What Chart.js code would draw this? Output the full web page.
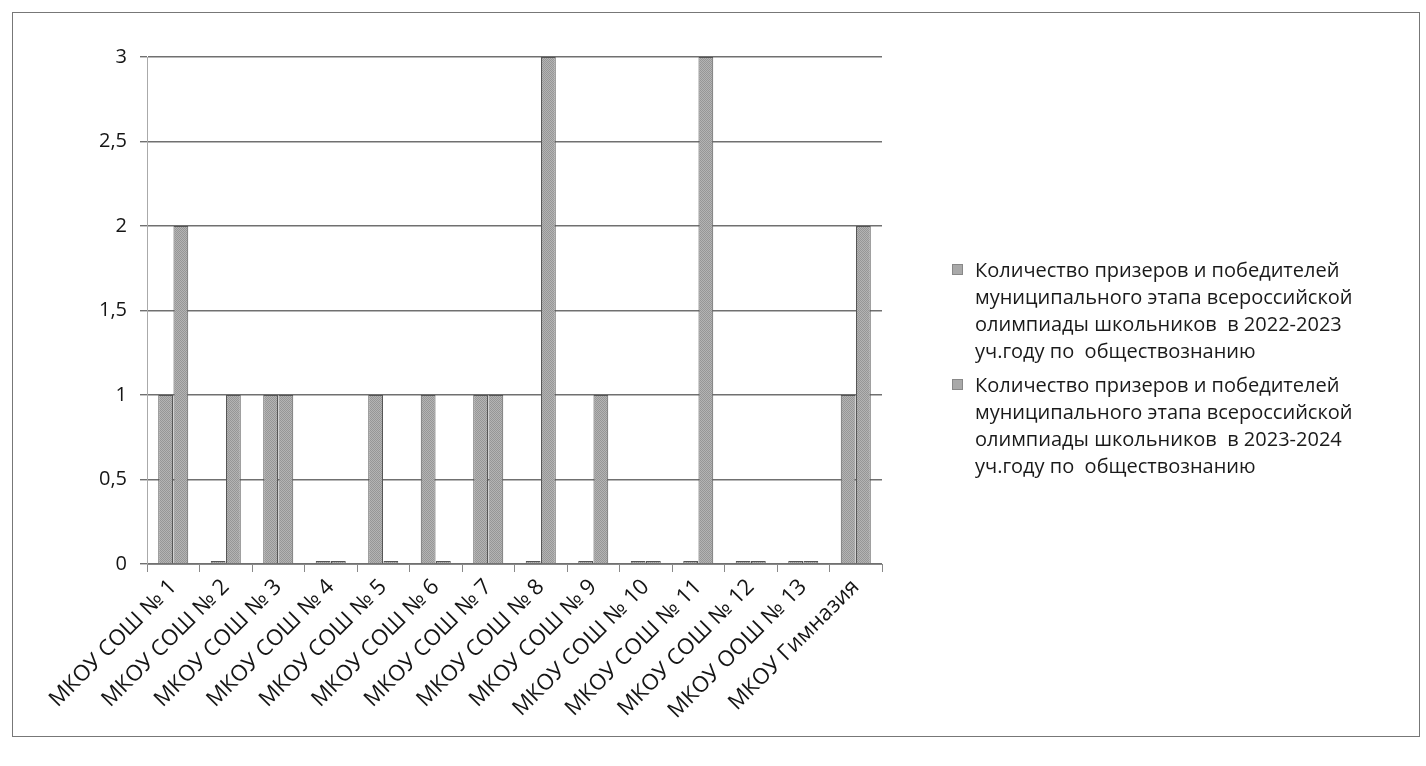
<!DOCTYPE html>
<html>
<head>
<meta charset="utf-8">
<script src="https://cdn.jsdelivr.net/npm/chart.js@4.4.1/dist/chart.umd.min.js"></script>
<style>
  html, body { margin: 0; padding: 0; background: #ffffff; }
  #wrap { position: relative; width: 1426px; height: 766px; overflow: hidden; }
  #frame { position: absolute; left: 12px; top: 12px; width: 1406px; height: 723px; border: 1px solid #777; }
  #chart { position: absolute; left: 0; top: 0; }
  #legend { position: absolute; left: 952px; top: 256px; font-family: "Open Sans", sans-serif; font-size: 20px; line-height: 27px; color: #1a1a1a; }
  .item { position: relative; padding-left: 23px; white-space: pre; margin-bottom: 7px; }
  .mark { position: absolute; left: 0; top: 8px; width: 11px; height: 11px; background: #a9a9a9; border: 1px solid #888; box-sizing: border-box; }
</style>
</head>
<body>
<div id="wrap">
  <div id="frame"></div>
  <canvas id="chart" width="1426" height="766"></canvas>
  <div id="legend"></div>
</div>
<script>
const categories = [
  "МКОУ СОШ № 1", "МКОУ СОШ № 2", "МКОУ СОШ № 3", "МКОУ СОШ № 4",
  "МКОУ СОШ № 5", "МКОУ СОШ № 6", "МКОУ СОШ № 7", "МКОУ СОШ № 8",
  "МКОУ СОШ № 9", "МКОУ СОШ № 10", "МКОУ СОШ № 11", "МКОУ СОШ № 12",
  "МКОУ ООШ № 13", "МКОУ Гимназия"
];
const series2022 = [1, 0, 1, 0, 1, 1, 1, 0, 0, 0, 0, 0, 0, 1];
const series2023 = [2, 1, 1, 0, 0, 0, 1, 3, 1, 0, 3, 0, 0, 2];
const seriesNames = [
  "Количество призеров и победителей\nмуниципального этапа всероссийской\nолимпиады школьников  в 2022-2023\nуч.году по  обществознанию",
  "Количество призеров и победителей\nмуниципального этапа всероссийской\nолимпиады школьников  в 2023-2024\nуч.году по  обществознанию"
];
const yTicks = [0, 0.5, 1, 1.5, 2, 2.5, 3];

// dithered grey fill like the scanned print
function makePattern() {
  const c = document.createElement('canvas');
  c.width = 2; c.height = 2;
  const g = c.getContext('2d');
  g.fillStyle = '#b4b4b4'; g.fillRect(0, 0, 2, 2);
  g.fillStyle = '#969696'; g.fillRect(0, 0, 1, 1); g.fillRect(1, 1, 1, 1);
  return g.createPattern(c, 'repeat');
}
const ctx = document.getElementById('chart').getContext('2d');
const pat = makePattern();

const FONT = '"Open Sans", sans-serif';

new Chart(ctx, {
  type: 'bar',
  data: {
    labels: categories,
    datasets: [
      { label: seriesNames[0], data: series2022, backgroundColor: pat, borderColor: '#555', borderWidth: 1, minBarLength: 3 },
      { label: seriesNames[1], data: series2023, backgroundColor: pat, borderColor: '#555', borderWidth: 1, minBarLength: 3 }
    ]
  },
  options: {
    responsive: false,
    animation: false,
    devicePixelRatio: 1,
    layout: { padding: { left: 0, right: 544, top: 57, bottom: 0 } },
    plugins: { legend: { display: false }, tooltip: { enabled: false } },
    datasets: { bar: { categoryPercentage: 0.58, barPercentage: 0.97 } },
    scales: {
      x: {
        afterFit: (s) => { s.height = 766 - 564; },
        grid: { display: true, drawOnChartArea: false, drawTicks: true, tickLength: 8, color: '#888', offset: true },
        border: { display: true, color: '#888', width: 1 },
        ticks: {
          autoSkip: false, maxRotation: 45, minRotation: 45, padding: 2,
          color: '#151515', font: { family: FONT, size: 22 }
        }
      },
      y: {
        min: 0, max: 3,
        afterFit: (s) => { s.width = 147; },
        afterBuildTicks: (s) => { s.ticks = yTicks.map(v => ({ value: v })); },
        grid: { color: '#707070', lineWidth: 1.4, drawTicks: true, tickLength: 7 },
        border: { display: true, color: '#aaa', width: 1 },
        ticks: {
          padding: 13, color: '#151515', font: { family: FONT, size: 20 },
          callback: (v) => String(v).replace('.', ',')
        }
      }
    }
  }
});

// legend as real text
const lg = document.getElementById('legend');
seriesNames.forEach((name) => {
  const d = document.createElement('div');
  d.className = 'item';
  const m = document.createElement('span');
  m.className = 'mark';
  d.appendChild(m);
  d.appendChild(document.createTextNode(name));
  lg.appendChild(d);
});
</script>
</body>
</html>
